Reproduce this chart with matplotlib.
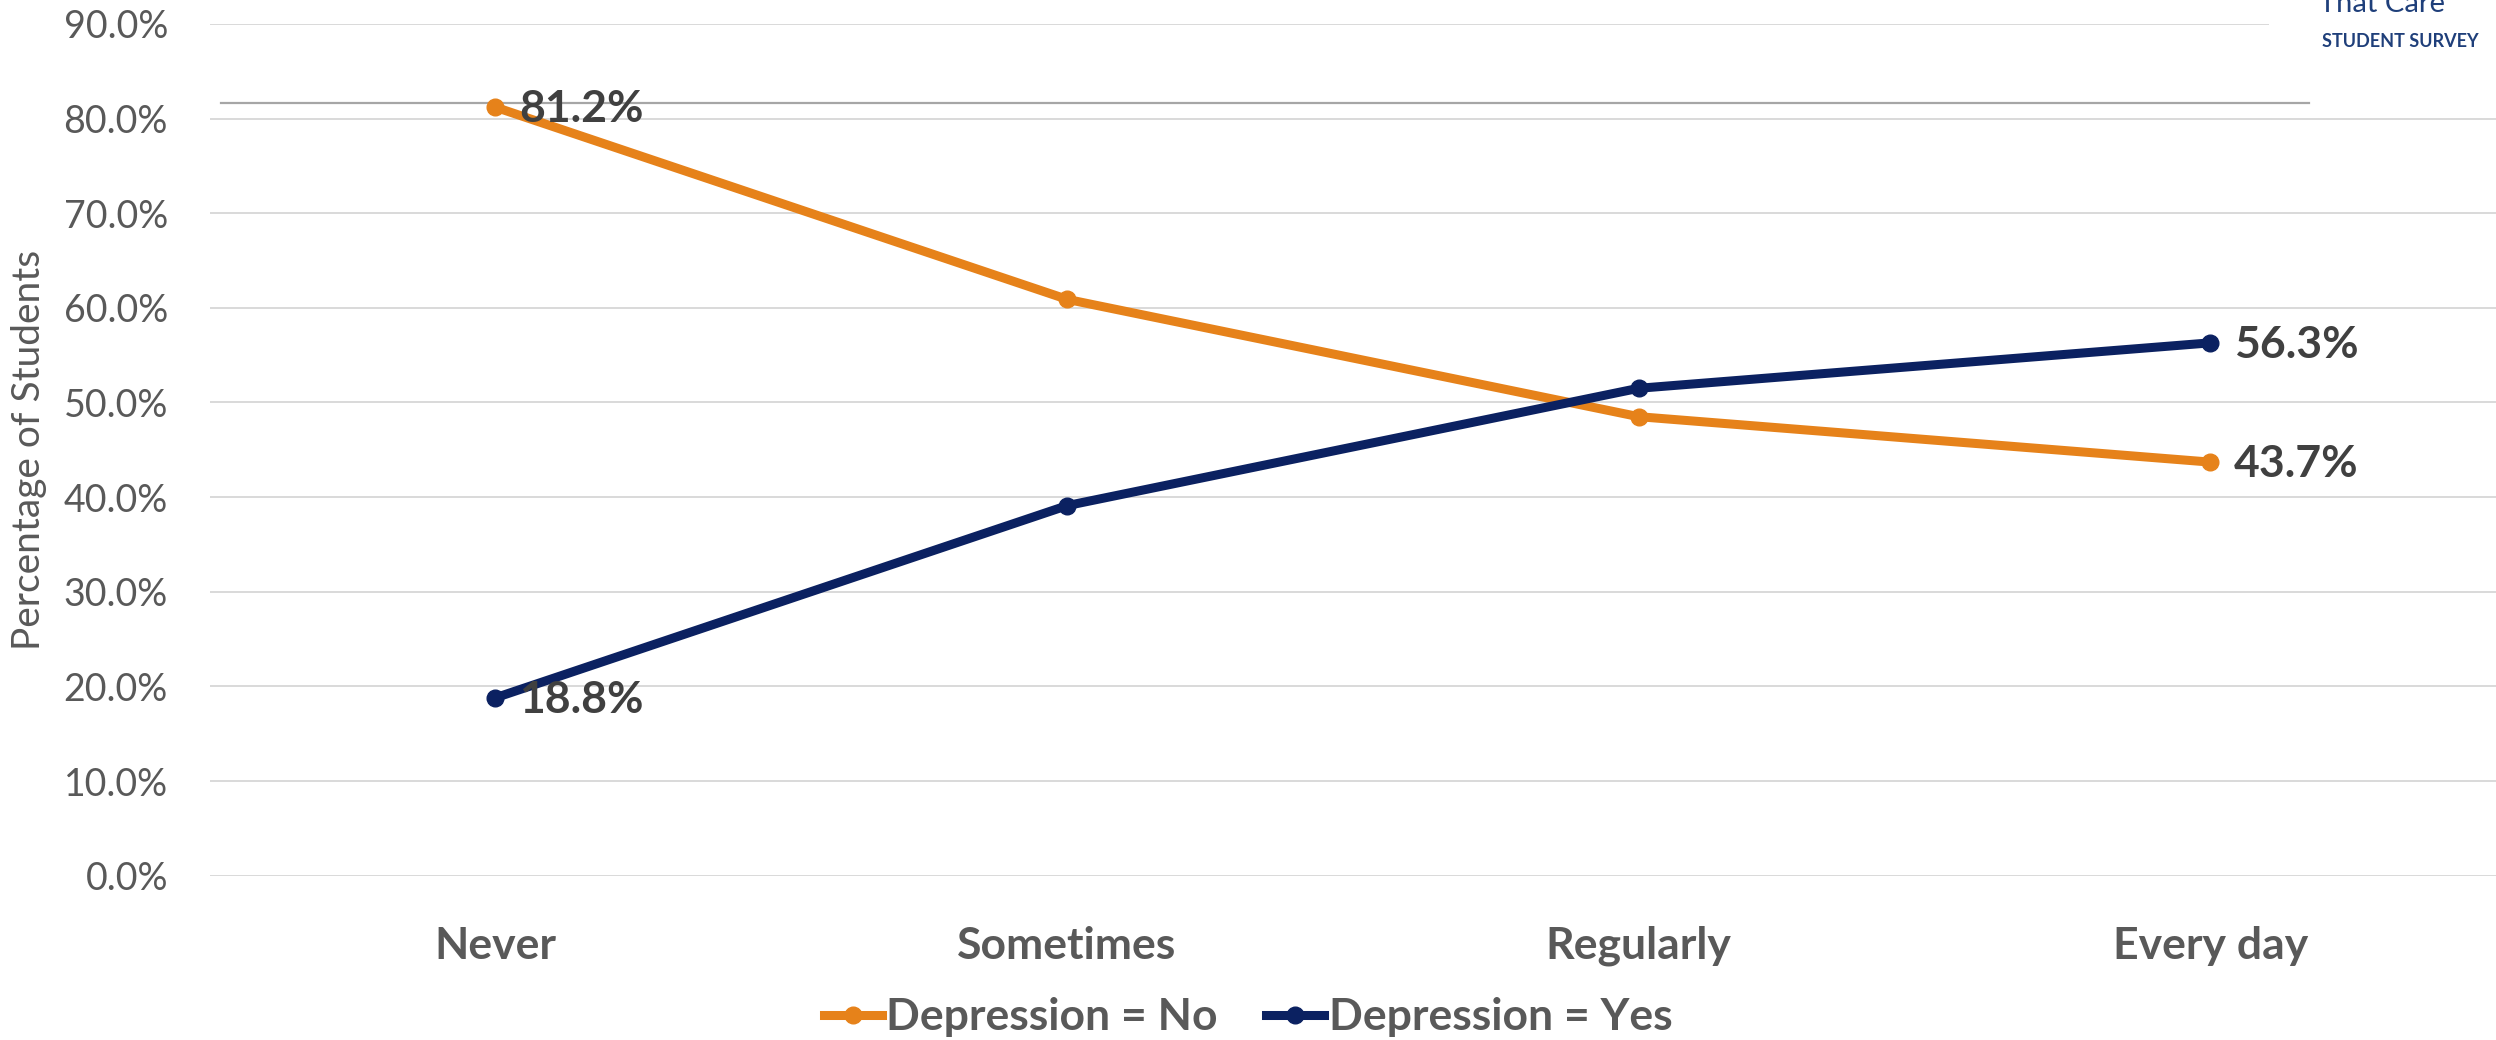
import matplotlib
matplotlib.use("Agg")
import matplotlib.pyplot as plt
from matplotlib.patches import Rectangle
from matplotlib.ticker import FuncFormatter

plt.rcParams['font.family'] = ['Lato', 'DejaVu Sans']

# datos
categorias = ['Never', 'Sometimes', 'Regularly', 'Every day']
depresion_no = [81.2, 60.9, 48.5, 43.7]
depresion_si = [18.8, 39.1, 51.5, 56.3]
ticks_y = [0, 10, 20, 30, 40, 50, 60, 70, 80, 90]

naranja = '#E6821A'
azul = '#0B2161'
gris_texto = '#595959'
gris_etiqueta = '#404040'

fig = plt.figure(figsize=(24.96, 10.4), dpi=100)
ax = fig.add_axes([0.084, 0.158, 0.916, 0.819])

x = list(range(len(categorias)))
ax.plot(x, depresion_no, color=naranja, lw=6.5, marker='o', ms=12, label='Depression = No', zorder=3)
ax.plot(x, depresion_si, color=azul, lw=6.5, marker='o', ms=12, label='Depression = Yes', zorder=3)

# etiquetas solo en el primer y ultimo punto
for serie in (depresion_no, depresion_si):
    for i in (0, len(x) - 1):
        ax.annotate(f'{serie[i]:.1f}%', (x[i], serie[i]), xytext=(24, -2), textcoords='offset pixels',
                    ha='left', va='center', fontsize=32, fontweight='bold', color=gris_etiqueta, zorder=4)

ax.set_xlim(-0.5, 3.5)
ax.set_ylim(0, 90)
ax.set_yticks(ticks_y)
ax.yaxis.set_major_formatter(FuncFormatter(lambda v, p: f'{v:.1f}%'))
ax.set_xticks(x)
ax.set_xticklabels(categorias, fontsize=32, fontweight='bold', color=gris_texto)
ax.tick_params(axis='x', length=0, pad=36)
ax.tick_params(axis='y', length=0, pad=30, labelsize=27, labelcolor=gris_texto)
ax.grid(axis='y', color='#D9D9D9', lw=1.4)
ax.set_axisbelow(True)
for s in ax.spines.values():
    s.set_visible(False)
ax.set_ylabel('Percentage of Students', fontsize=28, color=gris_texto)
ax.yaxis.set_label_coords(-0.071, 0.5)

# linea gris suelta del original
ax.axhline(81.6, xmin=0.005, xmax=0.918, color='#A6A6A6', lw=1.6, zorder=1)

# logo arriba a la derecha
fig.add_artist(Rectangle((0.909, 0.935), 0.091, 0.065, transform=fig.transFigure,
                         facecolor='white', edgecolor='none', zorder=5))
fig.text(0.9545, 0.996, 'That Care', ha='center', va='center', fontsize=21, color='#1F3F7A', zorder=6)
fig.text(0.9615, 0.960, 'STUDENT SURVEY', ha='center', va='center', fontsize=13, fontweight='bold',
         color='#1F3F7A', zorder=6)

fig.legend(loc='center', bbox_to_anchor=(0.5, 0.022), ncol=2, frameon=False,
           prop={'weight': 'bold', 'size': 32}, handlelength=1.3, handletextpad=0.1, columnspacing=1.1,
           labelcolor=gris_texto)

fig.savefig('out.png', dpi=100)
